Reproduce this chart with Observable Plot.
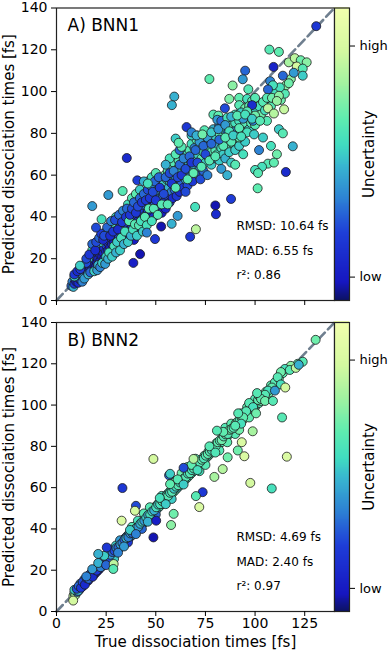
<!DOCTYPE html>
<html><head><meta charset="utf-8">
<script src="https://cdn.jsdelivr.net/npm/d3@7"></script>
<script src="https://cdn.jsdelivr.net/npm/@observablehq/plot@0.6"></script>
<style>
body{margin:0;background:#fff;font-family:"DejaVu Sans",sans-serif;}
#wrap{position:relative;width:390px;height:652px;overflow:hidden;}
.abs{position:absolute;}
</style></head><body><div id="wrap"></div>
<script>
// [true time, predicted time, uncertainty (0 = low, 1 = high)]
const bnn1 = [
[7.5,7,0.3],[8,9,0.35],[8.5,6.5,0.45],[9,8,0.2],[9.5,10,0.15],[10,9,0.1],[10.5,11,0.2],[10,12,0.25],[11,8.5,0.15],[11.5,10.5,0.1],[12,12,0.08],[12.5,13.5,0.15],[12,10,0.2],[13,11,0.12],[13.5,14,0.1],[14,12.5,0.08],[14.5,15.5,0.2],[15,13,0.1],[14,17,0.35],[15.5,16,0.12],[13,15.5,0.3],[11,13,0.4],[9,11.5,0.5],
[16,14,0.1],[16.5,17,0.15],[17,15.5,0.08],[17,19,0.2],[17.5,21,0.3],[18,16,0.1],[18,18.5,0.12],[18.5,20,0.2],[19,17,0.05],[19,22,0.25],[19.5,19.5,0.1],[20,16.5,0.15],[20,21,0.18],[20.5,24,0.3],[20.5,18,0.08],[21,20,0.12],[21,23,0.2],[21.5,26,0.35],[22,19,0.1],[22,22,0.15],[22.5,24.5,0.2],[23,21,0.08],[23,27,0.3],[23.5,23,0.12],[24,25,0.18],[24,20,0.1],[24.5,28,0.4],[25,23.5,0.15],[25,26.5,0.2],[16,20,0.45],[18,24,0.55],[15,18,0.25],[22,28,0.5],[19.5,26,0.4],
[25.5,30,0.3],[26,24,0.1],[26,27.5,0.18],[26.5,32,0.45],[27,25.5,0.08],[27,29,0.2],[27.5,34,0.5],[28,27,0.12],[28,30.5,0.25],[28.5,22,0.15],[29,28,0.1],[29,32,0.3],[29.5,35,0.45],[30,26,0.12],[30,30,0.18],[30.5,33,0.25],[30.5,37,0.5],[31,29,0.08],[31,31.5,0.2],[31.5,35,0.35],[32,27.5,0.15],[32,33,0.2],[32.5,38,0.55],[33,30,0.1],[33,35,0.3],[33.5,32,0.12],[34,36.5,0.4],[34,29,0.18],[34.5,40,0.5],[35,33,0.15],[35,37,0.25],[26,35,0.45],[28,37,0.6],[30,40,0.55],[25,33,0.5],[29,24,0.2],[33,41,0.5],
[35.5,39,0.3],[36,31,0.1],[36,35,0.2],[36.5,42,0.45],[37,38,0.25],[37,34,0.12],[37.5,44,0.55],[38,36,0.15],[38,40,0.3],[38.5,46,0.4],[39,33,0.1],[39,38,0.2],[39.5,42,0.35],[40,36,0.15],[40,45,0.45],[40.5,40,0.25],[41,48,0.5],[41,38,0.12],[41.5,43,0.3],[42,35,0.18],[42,41,0.2],[42.5,46,0.45],[43,39,0.15],[43,44,0.35],[43.5,50,0.55],[44,42,0.2],[44,37,0.1],[44.5,47,0.4],[45,41,0.25],[45,45,0.3],[36,46,0.55],[38,49,0.6],[40,51,0.62],[42,53,0.5],[39,29,0.08],
[45.5,50,0.5],[46,43,0.2],[46,39,0.12],[46.5,48,0.35],[47,46,0.25],[47,52,0.55],[47.5,42,0.1],[48,49,0.4],[48,55,0.6],[48.5,45,0.2],[49,51,0.45],[49,40,0.15],[49.5,47,0.3],[50,53,0.5],[50,44,0.15],[50.5,50,0.35],[51,56,0.6],[51,47,0.2],[51.5,52,0.4],[52,45,0.25],[52,49,0.3],[52.5,58,0.55],[53,54,0.45],[53,42,0.1],[53.5,50,0.35],[54,56,0.5],[54,47,0.2],[54.5,60,0.65],[55,52,0.4],[55,44,0.15],[46,57,0.6],[48,59,0.55],[50,61,0.6],
[55.5,58,0.55],[56,50,0.25],[56,62,0.6],[56.5,54,0.45],[57,47,0.2],[57,57,0.5],[57.5,64,0.62],[58,52,0.35],[58,60,0.55],[58.5,49,0.15],[59,56,0.45],[59,66,0.6],[59.5,53,0.3],[60,61,0.6],[60,58,0.4],[60.5,50,0.2],[61,63,0.55],[61,55,0.35],[61.5,67,0.6],[62,58,0.45],[62,52,0.15],[62.5,62,0.5],[63,65,0.6],[63,56,0.3],[63.5,70,0.55],[64,60,0.45],[64,54,0.2],[64.5,64,0.55],[65,67,0.6],[65,58,0.4],[57,68,0.55],[60,70,0.6],[62,72,0.3],[55,65,0.45],
[65.5,62,0.5],[66,70,0.55],[66,55,0.25],[66.5,65,0.45],[67,59,0.35],[67,72,0.6],[67.5,67,0.5],[68,63,0.4],[68,75,0.55],[68.5,57,0.2],[69,69,0.6],[69,65,0.45],[69.5,73,0.35],[70,61,0.3],[70,67,0.55],[70.5,77,0.6],[71,70,0.5],[71,79,0.15],[72,64,0.4],[72,73,0.55],[72.5,58,0.25],[73,68,0.6],[73,76,0.45],[74,71,0.55],[74,62,0.3],[75,74,0.6],[75,66,0.5],[75.5,79,0.55],[76,69,0.6],[76,60,0.35],[77,73,0.55],[77,77,0.45],[78,65,0.5],[78,71,0.6],[79,75,0.55],[79,68,0.4],[80,72,0.6],[80,78,0.5],[65,52,0.25],[68,79,0.5],
[81,70,0.55],[81,75,0.45],[82,67,0.5],[82,80,0.6],[83,73,0.55],[83,63,0.4],[84,77,0.6],[84,70,0.5],[85,81,0.55],[85,68,0.45],[86,74,0.6],[87,78,0.55],[87,71,0.5],[88,84,0.6],[88,66,0.5],[89,75,0.55],[89,81,0.6],[90,72,0.5],[90,85,0.55],[91,78,0.6],[92,74,0.5],[92,86,0.55],[93,80,0.6],[94,83,0.55],[95,76,0.5],[95,85,0.6],[96,88,0.55],[97,82,0.5],[98,85,0.6],[99,90,0.55],[100,84,0.6],[100,91,0.5],[86,60,0.45],[90,65,0.6],[94,70,0.55],
[101,87,0.6],[102,93,0.55],[103,89,0.65],[104,95,0.6],[105,91,0.55],[106,86,0.6],[107,97,0.65],[108,93,0.6],[110,100,0.55],[113,96,0.65],[115,99,0.6],[118,106,0.7],[104,78,0.5],[108,74,0.55],
[9,12.5,0.2],[10.5,14,0.15],[12,15,0.2],[13,9,0.35],[14,10.5,0.4],[15,20,0.25],[16,12.5,0.45],[16.5,22,0.2],[17,13.5,0.3],[18,27,0.3],[19,14,0.5],[19.5,24,0.15],[20,28,0.25],[20.5,14.5,0.4],[21,17,0.45],[21.5,30,0.3],[22,16,0.35],[22.5,32,0.2],[23,18,0.5],[23.5,29,0.15],[24,31,0.25],[24.5,17.5,0.4],[25,21,0.5],[25.5,35,0.3],[26,20,0.45],[26.5,23,0.55],[27,31,0.15],[27.5,38,0.35],[28,21,0.5],[28.5,33,0.2],[29,26,0.55],[29.5,38.5,0.25],[30,23,0.45],[30.5,28,0.5],[31,34,0.15],[31.5,41,0.3],[32,24,0.5],[32.5,30,0.55],[33,37.5,0.2],[33.5,43,0.35],[34,27,0.45],[34.5,33,0.55],[35,40,0.2],[35.5,44,0.3],[36,28,0.5],[36.5,38,0.6],[37,41,0.2],[37.5,31,0.45],[38,44,0.25],[38.5,34,0.55],[39,47,0.3],[39.5,36.5,0.6],[40,42,0.2],[40.5,31,0.5],[41,45,0.25],[41.5,36,0.6],[42,49,0.3],[42.5,38,0.55],[43,47,0.2],[43.5,33,0.5],[44,51,0.3],[44.5,40,0.6],[45,48,0.2],[45.5,36,0.55],[46,53,0.25],[46.5,44,0.6],[47,49,0.2],[47.5,55,0.35],[48,38,0.55],[48.5,52,0.25],[49,44,0.6],[49.5,57,0.3],[50,48,0.2],[51,41,0.6],[51.5,59,0.3],[52,54,0.2],[53,46,0.6],[54,51,0.25],[55,59,0.3],[56,46,0.6],[57,61,0.25],[58,56,0.2],[59,62,0.35],[60,54,0.6],[61,59,0.25],[62,65,0.3],[63,60,0.2],[64,68,0.35],[65,63,0.25],[66,58,0.6],[67,69,0.3],[68,66,0.2],[69,61,0.62],[70,72,0.3],[71,66,0.25],[72,76,0.4],[73,64,0.6],[74,74,0.3],[75,70,0.25],[76,78,0.4],[77,67,0.6],[78,75,0.3],[79,82,0.45],[80,69,0.6],[82,84,0.35],[84,74,0.6],[86,80,0.3],[88,76,0.6],[90,81,0.35],[92,78,0.62],[94,87,0.4],[97,89,0.6],[99,86,0.35],
[130.8,131.3,0.2],[107.2,120.1,0.6],[112,119,0.62],[109.3,111.8,0.12],
[117,114,0.75],[120,116,0.8],[123,115,0.65],[126,114,0.7],[121,112,0.85],[124,111,0.6],
[119.5,109,0.4],[124,107.6,0.5],[114,107.6,0.3],
[115.6,103,0.7],[117,104,0.65],[112.5,102,0.55],[107.6,105,0.35],[109,103,0.55],[106.5,101,0.3],
[95,110,0.3],[93.8,105.9,0.4],[77,106,0.62],[88.7,102.9,0.7],[96.6,101.1,0.6],
[59.3,97.6,0.45],[58.1,93.5,0.45],
[87,96.5,0.68],[92,97,0.62],[96,96.5,0.55],[98.5,95.5,0.6],[100,97,0.6],
[106,97,0.6],[108.5,97,0.65],[112,98,0.7],[111,95.5,0.72],
[84.8,92,0.25],[92,93.5,0.6],[95,92,0.65],[97,93,0.62],[98.5,93.5,0.15],
[106.5,92,0.8],[109.5,89.5,0.78],[114.6,91.5,0.82],
[79,89,0.6],[81.5,88.5,0.62],[90,89,0.55],[93,90,0.5],[96,90.5,0.6],[100,88.5,0.65],
[65.5,83,0.2],
[81,86.5,0.4],[83,86,0.3],[86,87.5,0.55],[88,88,0.45],[91,88.5,0.6],[95,89,0.55],[98.5,87,0.5],[102.5,86,0.6],
[68,80.5,0.35],[70.5,79,0.45],[74.5,81.5,0.6],[73.5,79.5,0.65],[78,80.5,0.5],[81.5,82,0.4],
[85,84,0.4],[87,81,0.55],[92,82.5,0.6],[96,80.5,0.55],[99.5,79.5,0.5],
[112,82,0.5],[114,80,0.6],
[60,77.5,0.5],[63,73.5,0.6],[61.5,75.5,0.62],
[119,73.8,0.45],
[82,77,0.3],[85,78,0.6],[89,79,0.5],[93,78.5,0.55],
[102,72,0.35],[111,70,0.65],
[106.5,65.5,0.6],[109.5,66,0.62],[103.5,64,0.55],[100,62.5,0.55],[101.5,61,0.6],
[115.5,61.5,0.15],[101.3,53.7,0.62],[87.9,48.6,0.22],[80,45.5,0.05],[80.3,41.3,0.15],
[70.2,34.1,0.8],[67.3,30.5,0.2],[69.8,44.8,0.55],
[35.4,68.2,0.15],[40.7,57.5,0.22],[44,57,0.45],[46,56,0.55],
[26.1,50.5,0.4],[33.3,52.4,0.6],[18,45.2,0.4],[22.7,38.9,0.55],[19.9,34.9,0.25],
[52.7,35.4,0.05],[49.6,29.4,0.2],[42.1,22.2,0.05],[38.7,18,0.1],[45.5,32.5,0.35],
[11.8,16.7,0.5],[58,36.7,0.45],[61,40.5,0.4]
];
const bnn2 = [
[8.5,7.5,0.8],[9,9,0.6],[9.5,8,0.75],[10,10,0.4],[10.5,9.5,0.3],[11,11.5,0.2],[11.5,10.5,0.15],[12,12,0.1],[12.5,13,0.2],[13,12,0.08],[13.5,14,0.15],[14,13.5,0.1],[14.5,15,0.2],[15,14.5,0.05],[15.5,16,0.12],[16,15,0.1],[16.5,17.5,0.15],[17,16.5,0.08],[17.5,18,0.2],[18,17,0.1],[18.5,19.5,0.15],[19,18,0.05],[19.5,20,0.25],[20,19,0.1],[9,10.5,0.5],[11,10,0.45],[12,13.5,0.4],[14,15.5,0.35],[16,17,0.3],[18,19,0.3],
[20.5,21,0.15],[21,20,0.08],[21.5,22.5,0.2],[22,21,0.1],[22.5,23.5,0.25],[23,22,0.12],[23.5,24,0.18],[24,23,0.05],[24.5,25.5,0.2],[25,24,0.1],[25.5,26.5,0.3],[26,25,0.15],[26.5,27,0.25],[27,26,0.1],[27.5,28.5,0.2],[28,27,0.3],[28.5,29.5,0.15],[29,28,0.2],[29.5,30.5,0.35],[30,29,0.1],[30.5,31.5,0.25],[31,30,0.4],[31.5,32.5,0.15],[32,31,0.3],[32.5,33.5,0.2],[33,32,0.45],[33.5,34.5,0.25],[34,33,0.1],[34.5,35.5,0.35],[35,34,0.2],[22,24,0.4],[24,26,0.45],[26,28,0.5],[28,30,0.45],[30,32,0.5],[32,34.5,0.4],[27,23.5,0.6],[29,25.5,0.5],
[35.5,36.5,0.3],[36,35,0.15],[36.5,37.5,0.45],[37,36,0.25],[37.5,38.5,0.2],[38,37,0.4],[38.5,39.5,0.3],[39,38,0.5],[39.5,40.5,0.25],[40,39,0.35],[40.5,41.5,0.45],[41,40,0.2],[41.5,42.5,0.5],[42,41,0.3],[42.5,43.5,0.55],[43,42,0.4],[43.5,44.5,0.3],[44,43,0.5],[44.5,45.5,0.45],[45,44,0.55],[45.5,46.5,0.4],[46,45,0.5],[46.5,47.5,0.3],[47,46,0.55],[47.5,48.5,0.45],[48,47,0.6],[48.5,49.5,0.5],[49,48,0.4],[49.5,50.5,0.55],[50,49,0.5],[50.5,51.5,0.6],[51,50,0.45],[51.5,52.5,0.55],[52,51,0.6],[52.5,53.5,0.5],[53,52,0.55],[53.5,54.5,0.6],[54,53,0.45],[54.5,55.5,0.6],[55,54,0.55],[38,41,0.6],[41,44,0.55],[44,47.5,0.6],[47,50.5,0.6],[50,47,0.3],[53,56,0.55],[36,33.5,0.2],[43,40,0.3],
[55.5,56.5,0.5],[56,55,0.6],[56.5,57.5,0.55],[57,56,0.45],[57.5,58.5,0.6],[58,57,0.55],[58.5,59.5,0.5],[59,58,0.6],[59.5,60.5,0.55],[60,59,0.6],[61,60,0.5],[61,62,0.6],[62,61,0.55],[62.5,63.5,0.6],[63,62,0.5],[64,63,0.55],[64,65,0.6],[65,64,0.6],[65.5,66.5,0.5],[66,65,0.55],[67,66,0.6],[67,68,0.62],[68,67,0.55],[68.5,69.5,0.6],[69,68,0.5],[70,69,0.6],[70.5,71.5,0.55],[71,70,0.62],[72,71,0.6],[72.5,73.5,0.5],[73,72,0.6],[74,73,0.55],[74.5,75.5,0.62],[75,74,0.6],[76,75,0.55],[76.5,77.5,0.6],[77,76,0.62],[78,77,0.55],[78.5,79.5,0.6],[79,78,0.62],[80,79,0.6],[60,63,0.7],[63,67,0.65],[66,70,0.62],[70,74,0.6],[72,68,0.55],[75,71,0.6],[58,54.5,0.5],
[80.5,81.5,0.6],[81,80,0.65],[82,81.5,0.62],[83,82,0.6],[83.5,84.5,0.65],[84,83,0.6],[85,84.5,0.62],[86,85,0.65],[86.5,87.5,0.6],[87,86,0.62],[88,87,0.6],[88.5,89.5,0.65],[89,88,0.62],[90,89.5,0.6],[91,90,0.65],[92,91.5,0.62],[93,92,0.6],[94,93,0.7],[95,94.5,0.62],[96,95,0.65],[97,96,0.6],[98,97.5,0.62],[99,98,0.65],[100,99,0.6],[101,100.5,0.62],[102,101,0.6],[103,102,0.65],[104,103.5,0.62],[106,105,0.6],[107,106,0.65],[85,89,0.6],[88,91,0.62],[90,86,0.6],[92,88,0.65],[96,99,0.62],[100,103,0.6],[82,78,0.6],[86,82,0.62],
[10.2,11,0.25],[11.2,12.3,0.3],[12.3,11.5,0.2],[13.2,14.3,0.25],[14.3,13,0.15],[15.2,16.2,0.2],[16.2,15.8,0.3],[17.2,18.3,0.25],[18.2,16.8,0.15],[19.2,20.3,0.3],[20.2,19.8,0.2],[21.2,22,0.25],[22.2,21.5,0.35],[23.2,24.5,0.3],[24.2,23.3,0.2],[25.2,26,0.35],[26.2,25.8,0.25],[27.2,27.5,0.4],[28.2,28.8,0.3],[29.2,29.5,0.25],[30.2,30.8,0.35],[31.2,31,0.3],[32.2,32.5,0.4],[33.2,33.2,0.35],[34.2,34.8,0.3],[35.2,35.5,0.45],[36.2,36,0.35],[37.2,37.8,0.4],[38.2,38,0.3],[39.2,39.5,0.45],[40.2,40.5,0.5],[41.2,41,0.4],[42.2,42.5,0.45],[43.2,43.5,0.5],[44.2,44,0.4],[45.2,45.5,0.5],[46.2,46.8,0.45],[47.2,47,0.55],[48.2,48.5,0.5],[49.2,49,0.45],[50.2,50.5,0.55],[51.2,51.8,0.5],[52.2,52,0.55],[53.2,53.5,0.6],[54.2,54,0.5],[55.2,55.8,0.55],[56.2,56,0.6],[57.2,57.5,0.55],[58.2,58,0.6],[59.2,59.5,0.5],[60.2,60.5,0.55],[61.2,61.2,0.6],[62.2,62.5,0.55],[63.2,63.2,0.6],[64.2,64.5,0.55],[65.2,65.2,0.6],[66.2,66.8,0.55],[67.2,67,0.6],[68.2,68.5,0.55],[69.2,69.3,0.6],[70.2,70.5,0.6],[71.2,71.5,0.55],[72.2,72.3,0.6],[73.2,73.5,0.62],[74.2,74.2,0.58],[75.2,75.5,0.6],[76.2,76.3,0.62],[77.2,77.5,0.6],[78.2,78.2,0.58],[79.2,79.5,0.62],[80.2,80.2,0.6],[81.2,82,0.62],[82.2,82.8,0.6],[83.2,83,0.65],[84.2,84.8,0.6],[85.2,85.8,0.62],[86.2,86,0.6],[87.2,88,0.65],[88.2,88.5,0.62],[89.2,89,0.6],[90.2,91,0.65],[91.2,92,0.62],[92.2,92.5,0.6],[93.2,94,0.65],[94.2,95,0.62],[95.2,95.5,0.6],[96.2,97,0.65],[97.2,98,0.62],[98.2,99,0.6],[99.2,100,0.65],[101.5,102.5,0.62],[103.5,104.5,0.6],[105.5,106.5,0.65],[108,109.5,0.62],[110,111,0.6],[112,113,0.65],[114,115.5,0.62],
[15,17,0.35],[18,20.5,0.4],[21,23.5,0.45],[24,27,0.5],[25,22.5,0.3],[31,28.5,0.35],[34,31.5,0.4],[37,39.5,0.5],[40,37.5,0.35],[46,43.5,0.45],[52,55,0.55],[55,52,0.5],[61,64,0.6],[64,61.5,0.5],[68,71,0.62],[71,68.5,0.55],[77,80,0.6],[80,77,0.58],[84,87,0.62],[93,96,0.6],[97,94,0.62],[102,104.5,0.6],
[130.5,131.6,0.65],[124,121,0.6],[121.5,120,0.62],[118,119,0.7],[115,117.5,0.55],[117.5,117,0.6],[120.5,118,0.8],[113,116,0.65],[122,119.5,0.45],
[111.4,113.5,0.6],[113,110,0.55],[108.5,108.5,0.62],[106.5,107,0.55],[105,105,0.6],[103,103,0.62],[110,107,0.4],[115.2,108.5,0.85],
[101,105.8,0.6],[105,102,0.65],[109,102,0.6],
[97,101,0.6],[99,99,0.55],[95.5,97,0.6],[100.5,96,0.65],[94,94,0.62],[91.5,96,0.6],[93,91,0.55],[90,90,0.6],
[113.6,94,0.6],[80.8,87.6,0.6],[98.8,87.3,0.75],[93.3,82,0.88],[91.3,78,0.65],[94.6,75.2,0.88],[116,75,0.88],[86.2,74.7,0.65],[83.7,69,0.78],[79.5,65.2,0.75],[97.6,62.3,0.85],[108.4,59.6,0.55],
[48.8,73.9,0.85],[73.6,57.8,0.2],[71.9,50.6,0.88],[70.2,55.9,0.6],[64,69.6,0.25],[56.7,66,0.3],
[57.2,61.7,0.62],[59,47.3,0.65],[69,73.9,0.78],[57.2,66.7,0.5],
[33.2,59.8,0.2],[40,51.2,0.25],[39.5,48.8,0.85],[32.8,44,0.88],[48.8,35.9,0.05],[50.2,44,0.1],[57.7,41.9,0.7],[25.3,31,0.2],[28.8,23,0.8],[28.6,20.6,0.6],[21,27.9,0.45],[8.4,5.3,0.85]
];
const panelTitles = ["A) BNN1", "B) BNN2"];
const statsBNN1 = ["RMSD: 10.64 fs", "MAD: 6.55 fs", "r\u00b2: 0.86"];
const statsBNN2 = ["RMSD: 4.69 fs", "MAD: 2.40 fs", "r\u00b2: 0.97"];
const axisDomain = [0, 140];
const yTicks = [0, 20, 40, 60, 80, 100, 120, 140];
const xTicks = [0, 25, 50, 75, 100, 125];
const cbarTicks = [0.08, 0.87];
const cbarLabels = ["low", "high"];
const xLabel = "True dissociation times [fs]";
const yLabel = "Predicted dissociation times [fs]";
const cLabel = "Uncertainty";
const cmapStops = [0, 0.06, 0.23, 0.34, 0.46, 0.53, 0.62, 0.74, 0.85, 1];
const cmapColors = ["#0c1264", "#1616c0", "#1e3ed8", "#2c7ed4", "#38b6d0", "#40dcc0", "#5eecb0", "#a2f2a0", "#d4f9a0", "#f2ffae"];

const cmap = d3.scaleLinear(cmapStops, cmapColors).clamp(true);
const colorOpt = {type: "linear", domain: [0, 1], interpolate: t => cmap(t)};
const font = "DejaVu Sans, sans-serif";
const wrap = document.getElementById("wrap");

function place(el, left, top) {
  const d = document.createElement("div");
  d.className = "abs";
  d.style.left = left + "px";
  d.style.top = top + "px";
  d.appendChild(el);
  wrap.appendChild(d);
}

function scatter(data, title, stats, height, mt, mb, showX) {
  const marks = [
    Plot.line(axisDomain, {x: d => d, y: d => d, stroke: "#6f7f8f", strokeWidth: 2.6, strokeDasharray: "9,4.5"}),
    Plot.dot(data, {x: d => d[0], y: d => d[1], fill: d => d[2], r: 4.5, stroke: "#1c1c1c", strokeWidth: 0.8}),
    Plot.frame({stroke: "#222", strokeWidth: 1.2}),
    Plot.axisY(yTicks, {tickSize: 5, tickPadding: 4, fontSize: 14, label: null}),
    Plot.axisX(xTicks, {tickSize: 5, tickPadding: 2, fontSize: 14, label: null, tickFormat: showX ? (d => String(d)) : (() => "")}),
    Plot.text([title], {frameAnchor: "top-left", dx: 11, dy: 18, fontSize: 17, textAnchor: "start", lineAnchor: "middle"}),
    Plot.text([yLabel], {frameAnchor: "left", dx: -47, rotate: -90, fontSize: 15, textAnchor: "middle", lineAnchor: "middle"})
  ];
  stats.forEach((s, i) => marks.push(Plot.text([s], {frameAnchor: "bottom-left", dx: 180, dy: -74 + i * 24.5, fontSize: 12, textAnchor: "start", lineAnchor: "middle"})));
  if (showX) marks.push(Plot.text([xLabel], {frameAnchor: "bottom", dy: 31, fontSize: 15, textAnchor: "middle", lineAnchor: "middle"}));
  return Plot.plot({
    width: 336, height, marginLeft: 56, marginRight: 2, marginTop: mt, marginBottom: mb,
    style: {fontFamily: font, color: "#000", background: "transparent", overflow: "visible"},
    x: {domain: axisDomain}, y: {domain: axisDomain},
    color: colorOpt,
    marks
  });
}

function colorbar(height, mt, mb) {
  const steps = d3.range(300);
  return Plot.plot({
    width: 56, height, marginLeft: 0, marginRight: 41, marginTop: mt, marginBottom: mb,
    style: {fontFamily: font, color: "#000", background: "transparent", overflow: "visible"},
    x: {domain: [0, 1], axis: null}, y: {domain: [0, 1], axis: null},
    color: colorOpt,
    marks: [
      Plot.rect(steps, {x1: 0, x2: 1, y1: i => i / 300, y2: i => (i + 1.6) / 300, fill: i => (i + 0.5) / 300, shapeRendering: "crispEdges"}),
      Plot.frame({stroke: "#222", strokeWidth: 1.2}),
      Plot.axisY(cbarTicks, {anchor: "right", tickSize: 5, tickPadding: 5, fontSize: 13, label: null, tickFormat: d => cbarLabels[cbarTicks.indexOf(d)]}),
      Plot.text([cLabel], {frameAnchor: "right", dx: 20, rotate: -90, fontSize: 15, textAnchor: "middle", lineAnchor: "middle"})
    ]
  });
}

place(scatter(bnn1, panelTitles[0], statsBNN1, 312, 7.5, 12, false), 0, 0);
place(colorbar(312, 7.5, 12), 334, 0);
place(scatter(bnn2, panelTitles[1], statsBNN2, 336, 6, 41, true), 0, 316);
place(colorbar(336, 6, 41), 334, 316);
</script></body></html>
